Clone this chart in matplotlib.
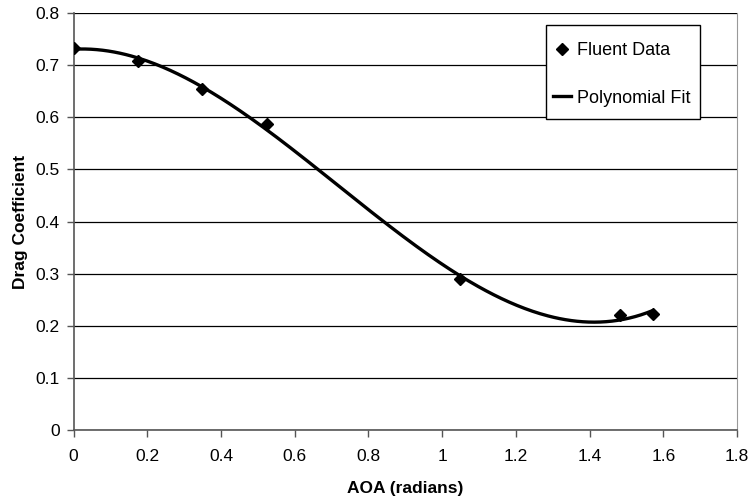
import numpy as np
import matplotlib.pyplot as plt
from matplotlib.patches import Rectangle

plt.rcParams['font.family'] = ['Liberation Sans', 'DejaVu Sans']

# Drag coefficient from Fluent runs vs angle of attack
aoa = [0.0, 0.1745, 0.349, 0.5236, 1.0472, 1.4835, 1.5708]
cd = [0.7335, 0.7085, 0.6535, 0.587, 0.2895, 0.221, 0.2225]

# polynomial trendline through the data
coef = np.polyfit(aoa, cd, 3)
xfit = np.linspace(0, max(aoa), 300)
yfit = np.polyval(coef, xfit)

W, H = 751, 499
fig = plt.figure(figsize=(W / 100, H / 100), dpi=100)
ax = fig.add_axes([73.5 / W, 69 / H, (737 - 73.5) / W, (430 - 13) / H])

ax.set_xlim(0, 1.8)
ax.set_ylim(0, 0.8)
ax.set_xticks(np.arange(0, 1.81, 0.2))
ax.set_yticks(np.arange(0, 0.81, 0.1))
ax.set_xticklabels(['0', '0.2', '0.4', '0.6', '0.8', '1', '1.2', '1.4', '1.6', '1.8'])
ax.set_yticklabels(['0', '0.1', '0.2', '0.3', '0.4', '0.5', '0.6', '0.7', '0.8'])
ax.tick_params(direction='out', length=5, width=1, colors='#555555', labelcolor='black',
               labelsize=12.5)
ax.tick_params(axis='x', pad=9)
ax.tick_params(axis='y', pad=5)
ax.yaxis.grid(True, color='black', linewidth=0.9)
ax.set_axisbelow(True)

for side in ['left', 'bottom']:
    ax.spines[side].set_color('#555555')
    ax.spines[side].set_linewidth(1.2)
ax.spines['top'].set_visible(False)
ax.spines['right'].set_color('#999999')

ax.plot(aoa, cd, 'D', color='black', markersize=6, label='Fluent Data', zorder=3)
ax.plot(xfit, yfit, '-', color='black', linewidth=2.4, label='Polynomial Fit', zorder=3)

ax.set_xlabel('AOA (radians)', fontsize=12.5, fontweight='bold', labelpad=12)
ax.set_ylabel('Drag Coefficient', fontsize=12.5, fontweight='bold', labelpad=5)

# legend box (white, thin black border) with the entries inside
box = Rectangle((546 / W, 1 - 119 / H), 154 / W, 94 / H, transform=fig.transFigure,
                facecolor='white', edgecolor='black', linewidth=1.0, zorder=4)
fig.patches.append(box)
leg = fig.legend(loc='upper left', bbox_to_anchor=(553 / W, 1 - 42 / H),
                 fontsize=13, frameon=False, borderpad=0, labelspacing=1.7,
                 handlelength=1.0, handletextpad=0.33, borderaxespad=0)
leg.set_zorder(5)

fig.savefig('out.png', dpi=100)
